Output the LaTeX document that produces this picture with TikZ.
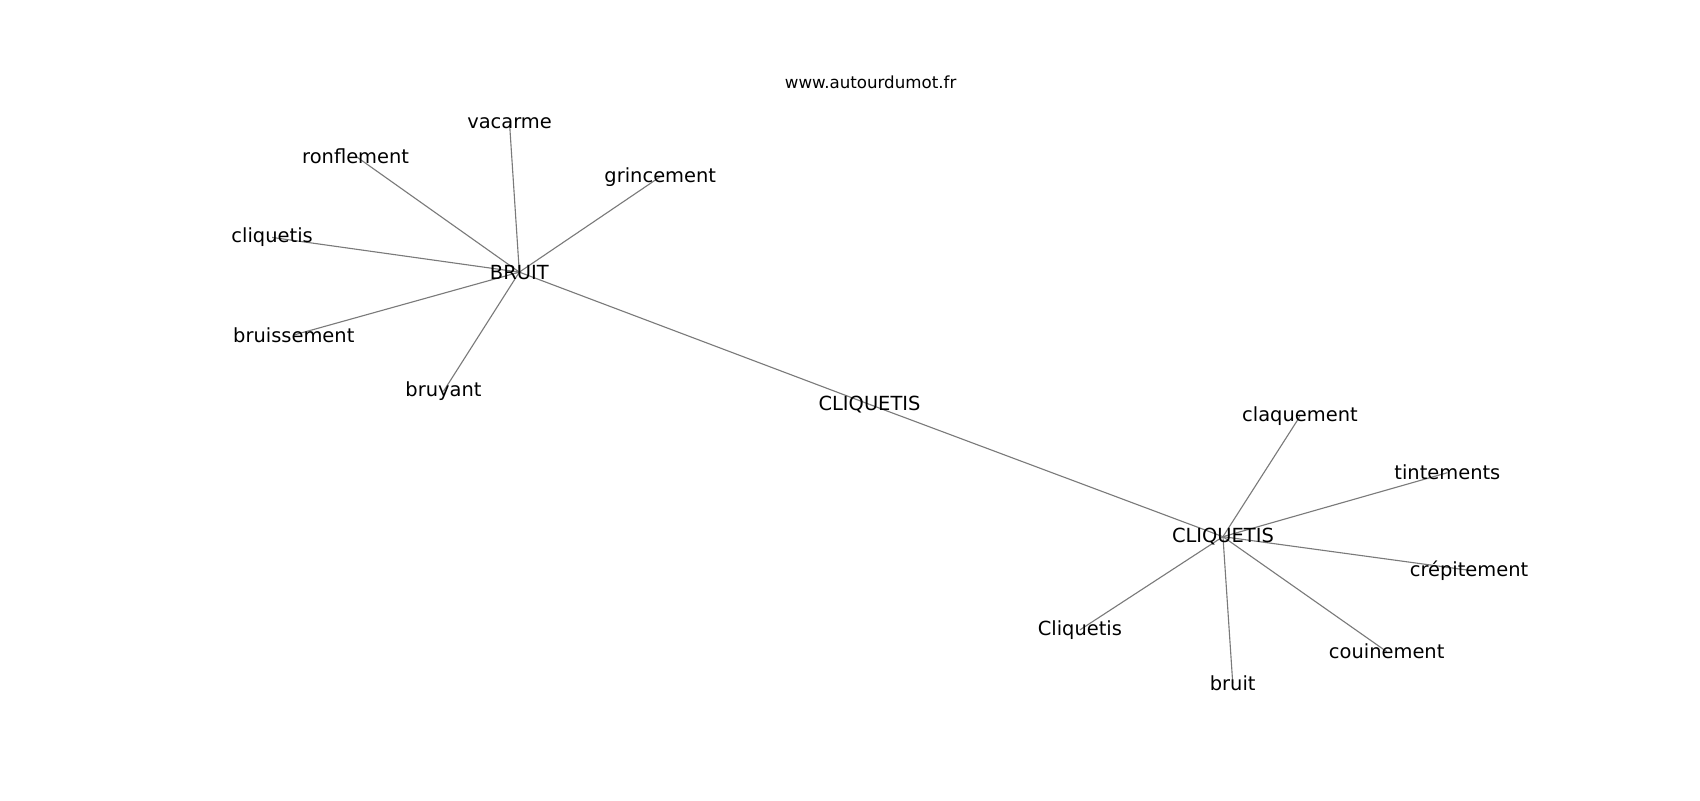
\documentclass[tikz,border=0pt]{standalone}
\usepackage{fontspec}
\setmainfont{DejaVu Sans}
\usetikzlibrary{backgrounds}
\begin{document}
\begin{tikzpicture}[x=0.7806pt,y=-0.7806pt,
  term/.style={inner sep=0pt,font=\fontsize{14pt}{16pt}\selectfont},
  ttl/.style={inner sep=0pt,font=\fontsize{12pt}{14pt}\selectfont},
  edge/.style={draw=black!52,line width=0.8pt}]
\useasboundingbox (0,0) rectangle (1568,737.9);
\node[ttl] (title) at (803,76) {www.autourdumot.fr};
% BRUIT cluster
\node[term] (bruitc) at (479,251) {BRUIT};
\node[term] (vacarme) at (470,114) {vacarme};
\node[term] (ronflement) at (328,144) {ronflement};
\node[term] (grincement) at (609,163) {grincement};
\node[term] (cliquetisl) at (251,219) {cliquetis};
\node[term] (bruissement) at (271,309) {bruissement};
\node[term] (bruyant) at (409,361) {bruyant};
% middle
\node[term] (cliqmid) at (802,373) {CLIQUETIS};
% CLIQUETIS cluster
\node[term] (cliqc) at (1128,495) {CLIQUETIS};
\node[term] (claquement) at (1199,384) {claquement};
\node[term] (tintements) at (1335,436) {tintements};
\node[term] (crepitement) at (1355,526) {crépitement};
\node[term] (couinement) at (1279,601) {couinement};
\node[term] (bruitl) at (1137,630) {bruit};
\node[term] (Cliquetis) at (996,581) {Cliquetis};
\begin{scope}[on background layer]
\fill[white] (0,0) rectangle (1568,737.9);
\foreach \n in {vacarme,ronflement,grincement,cliquetisl,bruissement,bruyant,cliqmid}
  \draw[edge] (bruitc.center) -- (\n.center);
\foreach \n in {claquement,tintements,crepitement,couinement,bruitl,Cliquetis,cliqmid}
  \draw[edge] (cliqc.center) -- (\n.center);
\end{scope}
\end{tikzpicture}
\end{document}
